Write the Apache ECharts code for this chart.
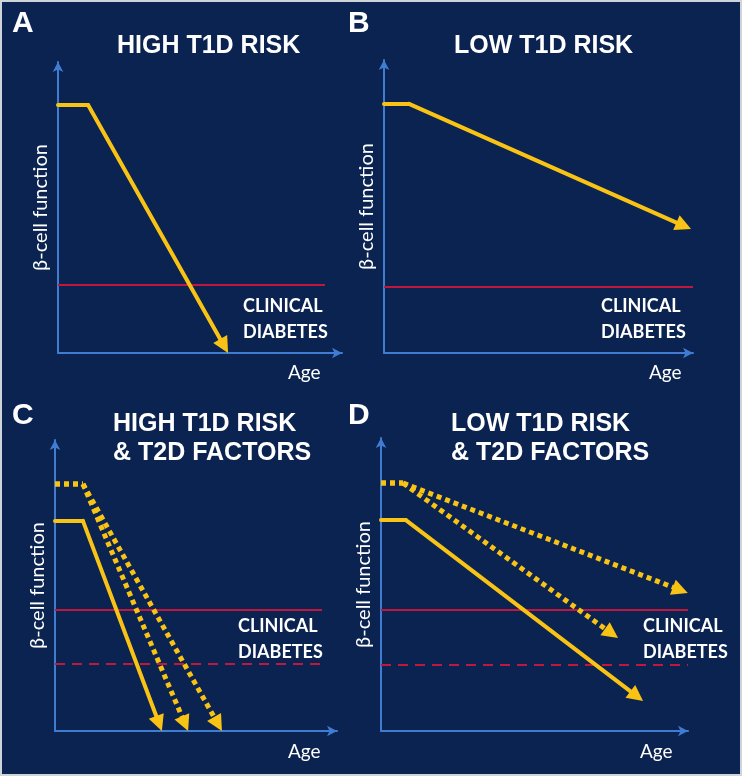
<!DOCTYPE html>
<html>
<head>
<meta charset="utf-8">
<title>T1D risk</title>
<script src="https://cdn.jsdelivr.net/npm/echarts@6/dist/echarts.min.js"></script>
<style>
	body { margin:0; background:#0b2350; }
	#chart { width:742px; height:776px; }
</style>
</head>
<body>
<div id="chart"></div>
<script>
	// every panel uses x 0-100 (age) and y 0-100 (beta-cell function)
	var panelLetters = ['A', 'B', 'C', 'D']
	var panelTitles = ['HIGH T1D RISK', 'LOW T1D RISK', 'HIGH T1D RISK\n& T2D FACTORS', 'LOW T1D RISK\n& T2D FACTORS']

	// yellow paths: start, end of plateau, arrow head (centre of the head)
	var curveA = [[0, 85.2], [10.6, 85.2], [58.5, 2.4]]
	var curveB = [[0, 85], [8.1, 85], [97, 43.4]]
	var curveC = [[0, 72.2], [9.9, 72.2], [36.9, 2.6]]
	var curveC1 = [[0, 84.9], [9.9, 84.9], [46.1, 2.5]]
	var curveC2 = [[0, 84.9], [9.9, 84.9], [57.8, 2.4]]
	var curveD = [[0, 72], [8.1, 72], [83.3, 11.9]]
	var curveD1 = [[0, 84.6], [7.2, 84.6], [97.5, 48.1]]
	var curveD2 = [[0, 84.6], [7.2, 84.6], [75.1, 33.3]]

	// clinical diabetes thresholds per panel (solid), and the T2D-lowered one (dashed)
	var thresholdY = [23.4, 22.5, 41.6, 41.3]
	var thresholdEnd = [94, 100, 94.7, 100]
	var t2dThresholdY = [null, null, 23, 22.5]

	var yellow = '#f9c316'
	var red = '#c0173e'
	var blue = '#3f7cd2'

	var grids = [
		{left:58, top:62, width:284, height:291},
		{left:384, top:60, width:309, height:293},
		{left:55, top:440, width:282, height:291},
		{left:381, top:438, width:307, height:293}
	]

	var xAxes = [], yAxes = [], series = [], titles = []
	grids.forEach(function(g, i){
		xAxes.push({
			type:'value', gridIndex:i, min:0, max:100,
			axisLine:{show:true, onZero:false, symbol:['none','arrow'], symbolSize:[8,10], lineStyle:{color:blue, width:2}},
			axisTick:{show:false}, axisLabel:{show:false}, splitLine:{show:false}
		})
		yAxes.push({
			type:'value', gridIndex:i, min:0, max:100,
			name:'β-cell function', nameLocation:'middle', nameRotate:90, nameGap:7,
			nameTextStyle:{color:'#ffffff', fontSize:20, fontFamily:'Lato'},
			axisLine:{show:true, onZero:false, symbol:['none','arrow'], symbolSize:[8,10], lineStyle:{color:blue, width:2}},
			axisTick:{show:false}, axisLabel:{show:false}, splitLine:{show:false}
		})
		series.push({
			type:'line', xAxisIndex:i, yAxisIndex:i, symbol:'none', silent:true,
			data:[[0, thresholdY[i]], [thresholdEnd[i], thresholdY[i]]],
			lineStyle:{color:red, width:2}
		})
		if(t2dThresholdY[i] != null){
			series.push({
				type:'line', xAxisIndex:i, yAxisIndex:i, symbol:'none', silent:true,
				data:[[0, t2dThresholdY[i]], [thresholdEnd[i], t2dThresholdY[i]]],
				lineStyle:{color:red, width:2, type:[10,7]}
			})
		}
	})

	function arrowCurve(curve, idx, dotted){
		var ls = {color:yellow, width:dotted ? 5 : 4, type:dotted ? [5,4] : 'solid', cap:dotted ? 'butt' : 'round'}
		series.push({
			type:'line', xAxisIndex:idx, yAxisIndex:idx, symbol:'none', silent:true,
			data:curve.slice(0, 2),
			lineStyle:ls,
			markLine:{
				silent:true, animation:false,
				symbol:['none','triangle'], symbolSize:[16,16],
				label:{show:false},
				lineStyle:ls,
				data:[[{coord:curve[1]}, {coord:curve[2]}]]
			}
		})
	}
	arrowCurve(curveA, 0, false)
	arrowCurve(curveB, 1, false)
	arrowCurve(curveC1, 2, true)
	arrowCurve(curveC2, 2, true)
	arrowCurve(curveC, 2, false)
	arrowCurve(curveD1, 3, true)
	arrowCurve(curveD2, 3, true)
	arrowCurve(curveD, 3, false)

	// texts
	var letterPos = [[12, 9], [348, 9], [12, 401], [348, 401]]
	var titlePos = [[117, 32], [454, 32], [113, 410], [451, 410]]
	var clinicalPos = [[243, 293], [601, 293], [238, 613], [643, 613]]
	var agePos = [[288, 363], [649, 363], [288, 742], [640, 742]]
	for(var i=0;i<4;i++){
		titles.push({text:panelLetters[i], left:letterPos[i][0], top:letterPos[i][1], padding:0,
			textStyle:{color:'#ffffff', fontSize:30, fontWeight:'bold', fontFamily:'Liberation Sans'}})
		titles.push({text:panelTitles[i], left:titlePos[i][0], top:titlePos[i][1], padding:0,
			textStyle:{color:'#ffffff', fontSize:25, fontWeight:'bold', fontFamily:'Liberation Sans', lineHeight:29}})
		titles.push({text:'CLINICAL\nDIABETES', left:clinicalPos[i][0], top:clinicalPos[i][1], padding:0,
			textStyle:{color:'#ffffff', fontSize:18, fontWeight:'bold', fontFamily:'Lato', lineHeight:26}})
		titles.push({text:'Age', left:agePos[i][0], top:agePos[i][1], padding:0,
			textStyle:{color:'#ffffff', fontSize:19, fontWeight:'normal', fontFamily:'Lato'}})
	}

	var chart = echarts.init(document.getElementById('chart'))
	chart.setOption({
		backgroundColor:'#0b2350',
		animation:false,
		title:titles,
		grid:grids,
		xAxis:xAxes,
		yAxis:yAxes,
		series:series,
		graphic:[{
			type:'rect', silent:true,
			shape:{x:1, y:1, width:740, height:774},
			style:{fill:'none', stroke:'#cfd3da', lineWidth:2}
		}]
	})
</script>
</body>
</html>
